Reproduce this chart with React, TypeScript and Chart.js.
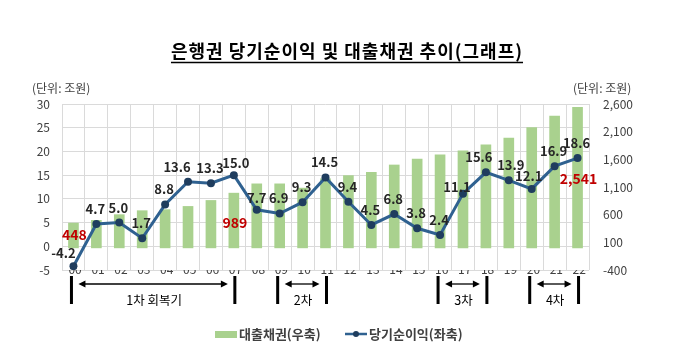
import React, { useEffect, useRef } from 'react';
import { Chart, registerables } from 'chart.js';

Chart.register(...registerables);

// ---------- data ----------
const YEARS = ['00', '01', '02', '03', '04', '05', '06', '07', '08', '09', '10', '11', '12', '13', '14', '15', '16', '17', '18', '19', '20', '21', '22'];
const CATEGORIES = YEARS.map((y) => '\u2019' + y);
// 대출채권 (조원, 우축)
const LOANS = [448, 497, 600, 672, 690, 749, 857, 989, 1157, 1157, 1080, 1250, 1306, 1365, 1498, 1605, 1683, 1755, 1862, 1982, 2173, 2383, 2541];
// 당기순이익 (조원, 좌축)
const NET_INCOME = [-4.2, 4.7, 5.0, 1.7, 8.8, 13.6, 13.3, 15.0, 7.7, 6.9, 9.3, 14.5, 9.4, 4.5, 6.8, 3.8, 2.4, 11.1, 15.6, 13.9, 12.1, 16.9, 18.6];
const LEFT_MIN = -5;
const LEFT_MAX = 30;
const LEFT_STEP = 5;
const RIGHT_MIN = -400;
const RIGHT_MAX = 2600;
const RIGHT_STEP = 500;
// highlighted loan values (red), placed at a left-axis height
const LOAN_CALLOUTS = [
  { index: 0, text: '448', at: 2.5 },
  { index: 7, text: '989', at: 5.0 },
  { index: 22, text: '2,541', at: 14.2 },
];
// recovery periods under the axis
const PERIODS = [
  { from: 0, to: 7, label: '1차 회복기' },
  { from: 9, to: 11, label: '2차' },
  { from: 16, to: 18, label: '3차' },
  { from: 20, to: 22, label: '4차' },
];
const TITLE = '은행권 당기순이익 및 대출채권 추이(그래프)';
const UNIT = '(단위: 조원)';
const LEGEND_BAR = '대출채권(우축)';
const LEGEND_LINE = '당기순이익(좌축)';

// ---------- styles ----------
const FONT = '"Noto Sans CJK KR", "Noto Sans", sans-serif';
const BAR_COLOR = '#a9d18e';
const LINE_COLOR = '#2f6190';
const POINT_COLOR = '#1f3d5e';
const GRID = '#dadada';
const TEXT = '#404040';
const LABEL_NUDGE: Record<number, [number, number]> = {
  0: [-9, 2],
  5: [-10, 0],
  7: [3, 3],
  8: [1, 3],
  17: [-5, 8],
  18: [-6, 0],
  19: [3, 0],
  20: [-2, 2],
};

function arrowHead(ctx: CanvasRenderingContext2D, x: number, y: number, dir: number) {
  ctx.beginPath();
  ctx.moveTo(x, y);
  ctx.lineTo(x - dir * 7, y - 3.5);
  ctx.lineTo(x - dir * 7, y + 3.5);
  ctx.closePath();
  ctx.fill();
}

const overlay = {
  id: 'overlay',
  afterDraw(chart: any) {
    const { ctx } = chart;
    const x = chart.scales.x;
    const y = chart.scales.y;
    ctx.save();

    // title
    ctx.font = `bold 18px ${FONT}`;
    (ctx as any).letterSpacing = '1px';
    ctx.fillStyle = '#000';
    ctx.textAlign = 'center';
    ctx.textBaseline = 'middle';
    const tw = ctx.measureText(TITLE).width;
    const tcx = 347;
    ctx.fillText(TITLE, tcx, 51);
    (ctx as any).letterSpacing = '0px';
    ctx.strokeStyle = '#000';
    ctx.lineWidth = 1.3;
    ctx.beginPath();
    ctx.moveTo(tcx - tw / 2, 62.5);
    ctx.lineTo(tcx + tw / 2, 62.5);
    ctx.stroke();

    // unit labels
    ctx.font = `12px ${FONT}`;
    ctx.fillStyle = TEXT;
    ctx.textAlign = 'left';
    ctx.fillText(UNIT, 32, 88);
    ctx.fillText(UNIT, 573, 88);

    // data labels for line
    const meta = chart.getDatasetMeta(1);
    ctx.font = `bold 13px ${FONT}`;
    ctx.fillStyle = '#262626';
    ctx.textAlign = 'center';
    ctx.textBaseline = 'middle';
    NET_INCOME.forEach((v, i) => {
      const p = meta.data[i];
      const n = LABEL_NUDGE[i] || [0, 0];
      ctx.fillText(v.toFixed(1), p.x - 1 + n[0], p.y - 15 + n[1]);
    });

    // red loan callouts
    ctx.font = `bold 14px ${FONT}`;
    ctx.fillStyle = '#c00000';
    LOAN_CALLOUTS.forEach((c) => {
      ctx.fillText(c.text, x.getPixelForValue(c.index) + 1, y.getPixelForValue(c.at));
    });

    // periods
    ctx.strokeStyle = '#000';
    ctx.fillStyle = '#000';
    const top = 276;
    const bot = 304;
    const ay = 284;
    PERIODS.forEach((p) => {
      const x1 = x.getPixelForValue(p.from) - 2;
      const x2 = x.getPixelForValue(p.to) + 1;
      ctx.lineWidth = 3;
      ctx.beginPath();
      ctx.moveTo(x1, top);
      ctx.lineTo(x1, bot);
      ctx.moveTo(x2, top);
      ctx.lineTo(x2, bot);
      ctx.stroke();
      ctx.lineWidth = 1.3;
      const a1 = x1 + 7;
      const a2 = x2 - 7;
      ctx.beginPath();
      ctx.moveTo(a1 + 4, ay);
      ctx.lineTo(a2 - 4, ay);
      ctx.stroke();
      arrowHead(ctx, a1, ay, -1);
      arrowHead(ctx, a2, ay, 1);
      ctx.font = `12.5px ${FONT}`;
      ctx.textAlign = 'center';
      ctx.textBaseline = 'middle';
      ctx.fillText(p.label, (x1 + x2) / 2 + 1, 300);
    });

    // legend
    ctx.fillStyle = BAR_COLOR;
    ctx.fillRect(215, 331, 22, 7);
    ctx.font = `bold 13px ${FONT}`;
    ctx.fillStyle = TEXT;
    ctx.textAlign = 'left';
    ctx.textBaseline = 'middle';
    ctx.fillText(LEGEND_BAR, 239, 334);
    ctx.strokeStyle = LINE_COLOR;
    ctx.lineWidth = 2.5;
    ctx.beginPath();
    ctx.moveTo(345, 334);
    ctx.lineTo(367, 334);
    ctx.stroke();
    ctx.fillStyle = POINT_COLOR;
    ctx.beginPath();
    ctx.arc(356, 334, 3, 0, Math.PI * 2);
    ctx.fill();
    ctx.fillStyle = TEXT;
    ctx.fillText(LEGEND_LINE, 369, 334);

    ctx.restore();
  },
};

export default function App() {
  const ref = useRef<HTMLCanvasElement | null>(null);
  useEffect(() => {
    document.body.style.margin = '0';
    const canvas = ref.current;
    if (!canvas) return;
    const chart = new Chart(canvas, {
      type: 'bar',
      data: {
        labels: CATEGORIES,
        datasets: [
          {
            type: 'bar',
            label: LEGEND_BAR,
            data: LOANS,
            yAxisID: 'y1',
            backgroundColor: BAR_COLOR,
            barThickness: 10,
            order: 2,
          },
          {
            type: 'line',
            label: LEGEND_LINE,
            data: NET_INCOME,
            yAxisID: 'y',
            borderColor: LINE_COLOR,
            borderWidth: 3,
            pointRadius: 4,
            pointBackgroundColor: POINT_COLOR,
            pointBorderColor: POINT_COLOR,
            pointBorderWidth: 0,
            tension: 0,
            order: 1,
          },
        ],
      },
      options: {
        responsive: false,
        animation: false,
        devicePixelRatio: 1,
        layout: { padding: { top: 104, left: 0, right: 0, bottom: 0 } },
        plugins: {
          legend: { display: false },
          title: { display: false },
          tooltip: { enabled: false },
        },
        scales: {
          x: {
            offset: true,
            grid: { color: GRID, offset: true, drawTicks: false },
            border: { display: false },
            ticks: { color: TEXT, font: { size: 12, family: FONT }, padding: -8, maxRotation: 0, autoSkip: false },
            afterFit: (s: any) => {
              s.height = 85;
            },
          },
          y: {
            position: 'left',
            min: LEFT_MIN,
            max: LEFT_MAX,
            ticks: { stepSize: LEFT_STEP, color: TEXT, font: { size: 12, family: FONT }, padding: 12 },
            grid: { color: GRID, drawTicks: false },
            border: { display: false },
            afterFit: (s: any) => {
              s.width = 62;
            },
          },
          y1: {
            position: 'right',
            min: RIGHT_MIN,
            max: RIGHT_MAX,
            ticks: {
              stepSize: RIGHT_STEP,
              color: TEXT,
              font: { size: 12, family: FONT },
              padding: 14,
              callback: (v: any) => Number(v).toLocaleString('en-US'),
            },
            grid: { display: false, drawTicks: false },
            border: { display: false },
            afterFit: (s: any) => {
              s.width = 91;
            },
          },
        },
      },
      plugins: [overlay],
    });
    return () => chart.destroy();
  }, []);
  return (
    <div style={{ position: 'absolute', left: 0, top: 0, width: 680, height: 355, background: '#fff' }}>
      <canvas ref={ref} width={680} height={355} />
    </div>
  );
}
